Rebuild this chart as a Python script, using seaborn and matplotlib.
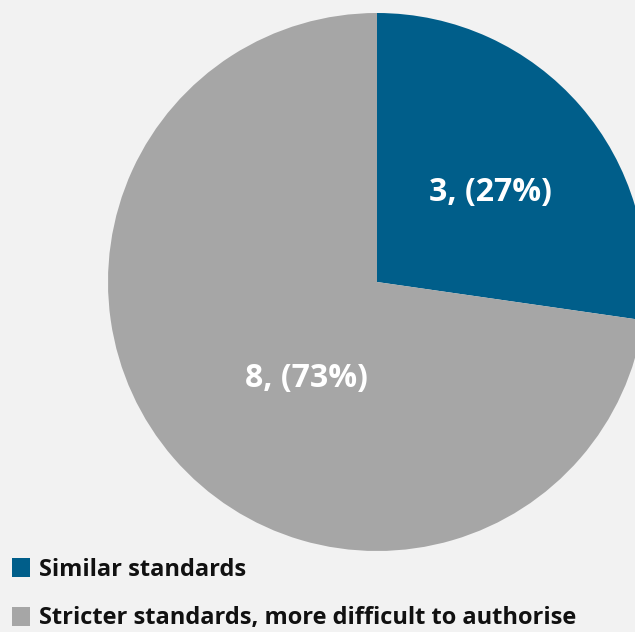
import matplotlib
matplotlib.use("Agg")
import matplotlib.pyplot as plt
import seaborn as sns
from matplotlib.patches import Patch

# data
categories = ["Similar standards", "Stricter standards, more difficult to authorise"]
counts = [3, 8]
colors = ["#005E8A", "#A6A6A6"]

sns.set_theme(style="white")
plt.rcParams["font.family"] = ["Open Sans", "DejaVu Sans"]

fig = plt.figure(figsize=(6.35, 6.32), dpi=100)
fig.patch.set_facecolor("#F2F2F2")
ax = fig.add_axes([0, 0, 1, 1])
ax.set_facecolor("#F2F2F2")

total = sum(counts)
labels = [f"{c}, ({round(100 * c / total)}%)" for c in counts]

wedges, texts = ax.pie(counts, colors=colors, startangle=90, counterclock=False,
                       center=(377, 350), radius=269, frame=True,
                       wedgeprops=dict(linewidth=0))
ax.set_xlim(0, 635)
ax.set_ylim(0, 632)
ax.set_aspect("equal")
ax.axis("off")

# label positions relative to pie
ax.text(490, 632 - 193, labels[0], color="white", fontsize=23, fontweight="bold",
        ha="center", va="center")
ax.text(306, 632 - 379, labels[1], color="white", fontsize=23, fontweight="bold",
        ha="center", va="center")

handles = [Patch(facecolor=c, edgecolor="none") for c in colors]
leg = ax.legend(handles, categories, loc="lower left", bbox_to_anchor=(0.0, -0.016),
                frameon=False, prop=dict(size=17, weight="bold"),
                handlelength=0.76, handleheight=0.85, handletextpad=0.4,
                labelspacing=1.05, borderaxespad=0.1)
for t in leg.get_texts():
    t.set_color("#111111")

fig.savefig("out.png", dpi=100, facecolor=fig.get_facecolor())
